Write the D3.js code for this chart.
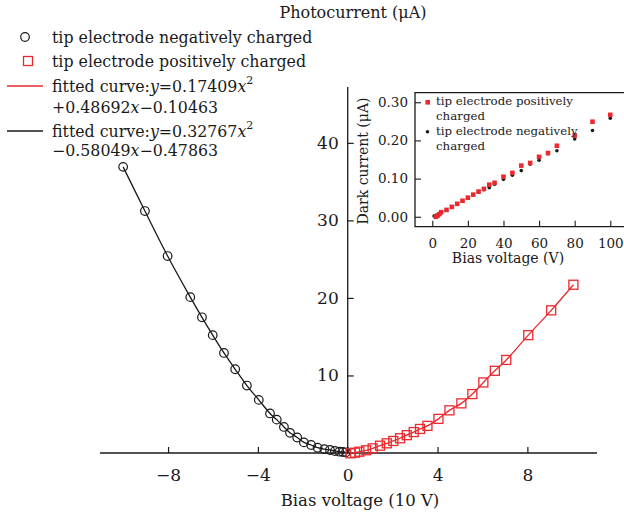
<!DOCTYPE html>
<html>
<head>
<meta charset="utf-8">
<script src="https://cdn.jsdelivr.net/npm/d3@7"></script>
<style>
  body { margin: 0; background: #fff; }
  svg { display: block; font-family: "DejaVu Serif", serif; }
</style>
</head>
<body>
<div id="chart"></div>
<script>
// main chart data (bias voltage in 10 V, photocurrent in uA)
var negV = [-10.0, -9.03, -8.02, -7.01, -6.49, -6.01, -5.51, -5.01, -4.49, -3.96, -3.46, -3.16, -2.84, -2.57, -2.25, -1.95, -1.63, -1.34, -1.04, -0.79, -0.57, -0.37, -0.22, -0.08];
var negI = [36.9, 31.2, 25.4, 20.1, 17.5, 15.2, 12.9, 10.8, 8.7, 6.85, 5.1, 4.3, 3.36, 2.6, 2.0, 1.37, 1.03, 0.68, 0.5, 0.39, 0.26, 0.17, 0.13, 0.09];
var posV = [0.13, 0.33, 0.52, 0.82, 1.11, 1.44, 1.74, 2.03, 2.33, 2.63, 2.94, 3.22, 3.55, 4.04, 4.53, 5.06, 5.55, 6.04, 6.55, 7.06, 8.04, 9.06, 10.05];
var posI = [-0.04, 0.04, 0.17, 0.35, 0.6, 0.94, 1.25, 1.55, 1.9, 2.3, 2.7, 3.1, 3.5, 4.4, 5.5, 6.4, 7.6, 9.1, 10.6, 12.0, 15.2, 18.4, 21.7];

var xTicks = [-8, -4, 0, 4, 8];
var yTicks = [10, 20, 30, 40];

// inset data (bias voltage in V, dark current in uA)
var insNegV = [1, 2, 3, 4, 5, 8, 11, 14, 17, 20, 23, 26, 29, 32, 35, 40, 45, 50, 55, 60, 65, 70, 80, 90, 100];
var insNegI = [0.002, 0.003, 0.005, 0.008, 0.011, 0.017, 0.025, 0.033, 0.041, 0.049, 0.057, 0.064, 0.071, 0.076, 0.085, 0.098, 0.109, 0.121, 0.138, 0.148, 0.165, 0.173, 0.204, 0.226, 0.258];
var insPosV = [2, 3, 4, 5, 8, 11, 14, 17, 20, 23, 26, 29, 32, 35, 40, 45, 50, 55, 60, 65, 70, 80, 90, 100];
var insPosI = [0.000, 0.003, 0.007, 0.012, 0.018, 0.026, 0.034, 0.042, 0.050, 0.058, 0.066, 0.073, 0.084, 0.089, 0.105, 0.115, 0.134, 0.141, 0.157, 0.167, 0.186, 0.213, 0.249, 0.267];

var insXTicks = [0, 20, 40, 60, 80, 100];
var insYTicks = [0, 0.1, 0.2, 0.3];

var RED = '#ea2a2e';
var BLACK = '#1a1a1a';

var svg = d3.select('#chart').append('svg').attr('width', 624).attr('height', 517);

var x = d3.scaleLinear().domain([-11.03, 11.1]).range([100, 597]);
var y = d3.scaleLinear().domain([0, 47.2]).range([453, 87]);

// axes
svg.append('line').attr('x1', 100).attr('x2', 597).attr('y1', y(0)).attr('y2', y(0)).attr('stroke', BLACK).attr('stroke-width', 1.3);
svg.append('line').attr('x1', x(0)).attr('x2', x(0)).attr('y1', y(0)).attr('y2', 87).attr('stroke', BLACK).attr('stroke-width', 1.3);

var xAxis = svg.append('g').attr('transform', 'translate(0,' + y(0) + ')')
  .call(d3.axisBottom(x).tickValues(xTicks).tickSizeInner(-6).tickSizeOuter(0).tickPadding(16)
    .tickFormat(function(d) { return d < 0 ? '\u2212' + (-d) : d; }));
xAxis.select('.domain').remove();
xAxis.selectAll('text').attr('font-size', 17).attr('font-family', 'DejaVu Serif').attr('fill', BLACK);
xAxis.selectAll('line').attr('stroke', BLACK).attr('stroke-width', 1.2);

var yAxis = svg.append('g').attr('transform', 'translate(' + x(0) + ',0)')
  .call(d3.axisLeft(y).tickValues(yTicks).tickSizeInner(-6).tickSizeOuter(0).tickPadding(9));
yAxis.select('.domain').remove();
yAxis.selectAll('text').attr('font-size', 17).attr('font-family', 'DejaVu Serif').attr('fill', BLACK);
yAxis.selectAll('line').attr('stroke', BLACK).attr('stroke-width', 1.2);

svg.append('text').attr('x', 353).attr('y', 18).attr('text-anchor', 'middle').attr('font-size', 16).attr('fill', BLACK).text('Photocurrent (\u03bcA)');
svg.append('text').attr('x', 360).attr('y', 506).attr('text-anchor', 'middle').attr('font-size', 16.5).attr('fill', BLACK).text('Bias voltage (10 V)');

// fitted curves through the points
var line = d3.line().x(function(d) { return x(d[0]); }).y(function(d) { return y(d[1]); }).curve(d3.curveCatmullRom);
var negPts = negV.map(function(v, i) { return [v, negI[i]]; });
var posPts = posV.map(function(v, i) { return [v, posI[i]]; });

svg.append('path').datum(negPts).attr('d', line).attr('fill', 'none').attr('stroke', BLACK).attr('stroke-width', 1.3);
svg.append('path').datum(posPts).attr('d', line).attr('fill', 'none').attr('stroke', RED).attr('stroke-width', 1.3);

svg.selectAll('circle.neg').data(negPts).enter().append('circle')
  .attr('cx', function(d) { return x(d[0]); }).attr('cy', function(d) { return y(d[1]); })
  .attr('r', 4.3).attr('fill', 'none').attr('stroke', BLACK).attr('stroke-width', 1.2);

svg.selectAll('rect.pos').data(posPts).enter().append('rect')
  .attr('x', function(d) { return x(d[0]) - 4.5; }).attr('y', function(d) { return y(d[1]) - 4.5; })
  .attr('width', 9).attr('height', 9).attr('fill', 'none').attr('stroke', RED).attr('stroke-width', 1.3);

// legend
var lg = svg.append('g').attr('font-size', 15.8).attr('fill', BLACK);
lg.append('circle').attr('cx', 25).attr('cy', 37).attr('r', 4.3).attr('fill', 'none').attr('stroke', BLACK).attr('stroke-width', 1.2);
lg.append('text').attr('x', 52).attr('y', 43).text('tip electrode negatively charged');
lg.append('rect').attr('x', 23.5).attr('y', 56.5).attr('width', 9).attr('height', 9).attr('fill', 'none').attr('stroke', RED).attr('stroke-width', 1.3);
lg.append('text').attr('x', 52).attr('y', 67).text('tip electrode positively charged');

function fitLabel(yPos, a) {
  var t = lg.append('text').attr('x', 52).attr('y', yPos);
  t.append('tspan').text('fitted curve:');
  t.append('tspan').attr('font-style', 'italic').text('y');
  t.append('tspan').text('=' + a);
  t.append('tspan').attr('font-style', 'italic').text('x');
  t.append('tspan').attr('dy', -8).attr('font-size', 11).text('2');
}
function restLabel(yPos, parts) {
  var t = lg.append('text').attr('x', 52).attr('y', yPos);
  t.append('tspan').text(parts[0]);
  t.append('tspan').attr('font-style', 'italic').text('x');
  t.append('tspan').text(parts[1]);
}
lg.append('line').attr('x1', 7).attr('x2', 43).attr('y1', 86).attr('y2', 86).attr('stroke', RED).attr('stroke-width', 1.3);
fitLabel(92, '0.17409');
restLabel(113, ['+0.48692', '\u22120.10463']);
lg.append('line').attr('x1', 7).attr('x2', 43).attr('y1', 131).attr('y2', 131).attr('stroke', BLACK).attr('stroke-width', 1.3);
fitLabel(137, '0.32767');
restLabel(156, ['\u22120.58049', '\u22120.47863']);

// inset
var ix = d3.scaleLinear().domain([-9.7, 107.7]).range([415, 624]);
var iy = d3.scaleLinear().domain([-0.026, 0.325]).range([226.7, 92.7]);
var inset = svg.append('g');

inset.append('path').attr('d', 'M624,92.7H415V226.7H624').attr('fill', 'none').attr('stroke', BLACK).attr('stroke-width', 1.3);

var ixAxis = inset.append('g').attr('transform', 'translate(0,226.7)')
  .call(d3.axisBottom(ix).tickValues(insXTicks).tickSizeInner(-6).tickSizeOuter(0).tickPadding(12));
ixAxis.select('.domain').remove();
ixAxis.selectAll('text').attr('font-size', 13.5).attr('font-family', 'DejaVu Serif').attr('fill', BLACK);
ixAxis.selectAll('line').attr('stroke', BLACK).attr('stroke-width', 1.1);

var iyAxis = inset.append('g').attr('transform', 'translate(415,0)')
  .call(d3.axisLeft(iy).tickValues(insYTicks).tickSizeInner(-6).tickSizeOuter(0).tickPadding(7).tickFormat(d3.format('.2f')));
iyAxis.select('.domain').remove();
iyAxis.selectAll('text').attr('font-size', 13.5).attr('font-family', 'DejaVu Serif').attr('fill', BLACK);
iyAxis.selectAll('line').attr('stroke', BLACK).attr('stroke-width', 1.1);

inset.append('text').attr('x', 508).attr('y', 263).attr('text-anchor', 'middle').attr('font-size', 14).attr('fill', BLACK).text('Bias voltage (V)');
inset.append('text').attr('transform', 'translate(368,161) rotate(-90)').attr('text-anchor', 'middle').attr('font-size', 14).attr('fill', BLACK).text('Dark current (\u03bcA)');

inset.selectAll('circle.ineg').data(insNegV).enter().append('circle')
  .attr('cx', function(d) { return ix(d); }).attr('cy', function(d, i) { return iy(insNegI[i]); })
  .attr('r', 1.8).attr('fill', BLACK);
inset.selectAll('rect.ipos').data(insPosV).enter().append('rect')
  .attr('x', function(d) { return ix(d) - 2.3; }).attr('y', function(d, i) { return iy(insPosI[i]) - 2.3; })
  .attr('width', 4.6).attr('height', 4.6).attr('fill', RED);

var il = inset.append('g').attr('font-size', 11.8).attr('fill', BLACK);
il.append('rect').attr('x', 425.4).attr('y', 100).attr('width', 4.6).attr('height', 4.6).attr('fill', RED);
il.append('text').attr('x', 436).attr('y', 105).text('tip electrode positively');
il.append('text').attr('x', 436).attr('y', 120).text('charged');
il.append('circle').attr('cx', 427.5).attr('cy', 131.7).attr('r', 1.8).attr('fill', BLACK);
il.append('text').attr('x', 436).attr('y', 135).text('tip electrode negatively');
il.append('text').attr('x', 436).attr('y', 150).text('charged');
</script>
</body>
</html>
